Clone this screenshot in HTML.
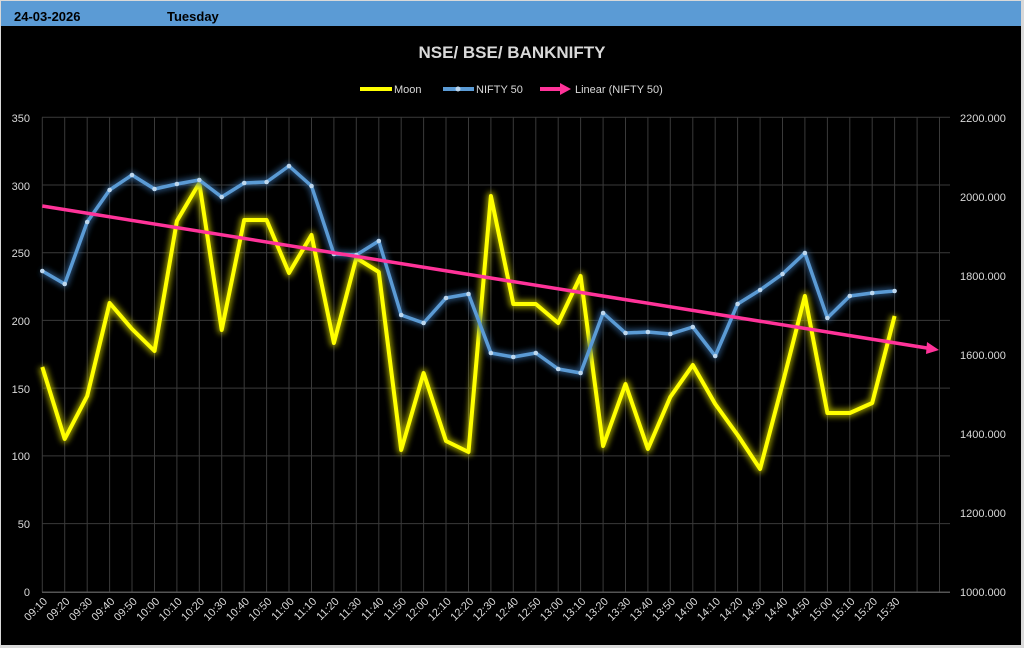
<!DOCTYPE html>
<html><head><meta charset="utf-8"><style>
html,body{margin:0;padding:0;background:#fff;}
body{width:1024px;height:648px;overflow:hidden;font-family:"Liberation Sans",sans-serif;}
</style></head><body>
<svg width="1024" height="648" viewBox="0 0 1024 648" xmlns="http://www.w3.org/2000/svg" font-family="Liberation Sans, sans-serif">
<defs>
<filter id="glow" x="-10%" y="-10%" width="120%" height="120%"><feGaussianBlur stdDeviation="3"/></filter>
</defs>
<rect x="0" y="0" width="1024" height="648" fill="#d9d9d9"/>
<rect x="1" y="1" width="1020" height="644" fill="#000"/>
<rect x="1" y="1" width="1020" height="25" fill="#5b9bd5"/>
<text x="14" y="21" font-size="13" font-weight="bold" fill="#000">24-03-2026</text>
<text x="167" y="21" font-size="13" font-weight="bold" fill="#000">Tuesday</text>
<text x="512" y="58" font-size="17" font-weight="bold" fill="#d9d9d9" text-anchor="middle">NSE/ BSE/ BANKNIFTY</text>
<line x1="360" y1="89" x2="392" y2="89" stroke="#ffff00" stroke-width="4"/>
<text x="394" y="93" font-size="11" fill="#d9d9d9">Moon</text>
<line x1="443" y1="89" x2="474" y2="89" stroke="#5b9bd5" stroke-width="4"/>
<circle cx="458" cy="89" r="2.5" fill="#bdd7ee"/>
<text x="476" y="93" font-size="11" fill="#d9d9d9">NIFTY 50</text>
<line x1="540" y1="89" x2="562" y2="89" stroke="#ff3399" stroke-width="4"/>
<polygon points="560,83 571,89 560,95" fill="#ff3399"/>
<text x="575" y="93" font-size="11" fill="#d9d9d9">Linear (NIFTY 50)</text>
<g stroke="#3a3a3a" stroke-width="1">
<path d="M42.3 117.3V592M64.7 117.3V592M87.2 117.3V592M109.6 117.3V592M132 117.3V592M154.5 117.3V592M176.9 117.3V592M199.3 117.3V592M221.7 117.3V592M244.2 117.3V592M266.6 117.3V592M289 117.3V592M311.5 117.3V592M333.9 117.3V592M356.3 117.3V592M378.8 117.3V592M401.2 117.3V592M423.6 117.3V592M446 117.3V592M468.5 117.3V592M490.9 117.3V592M513.3 117.3V592M535.8 117.3V592M558.2 117.3V592M580.6 117.3V592M603.1 117.3V592M625.5 117.3V592M647.9 117.3V592M670.3 117.3V592M692.8 117.3V592M715.2 117.3V592M737.6 117.3V592M760.1 117.3V592M782.5 117.3V592M804.9 117.3V592M827.4 117.3V592M849.8 117.3V592M872.2 117.3V592M894.6 117.3V592M917.1 117.3V592M939.5 117.3V592"/>
<path d="M42 117.3H950M42 185H950M42 252.7H950M42 320.4H950M42 388.1H950M42 455.9H950M42 523.6H950"/>
</g>
<line x1="42" y1="592.3" x2="950" y2="592.3" stroke="#555" stroke-width="1.5"/>
<g font-size="11" fill="#d9d9d9" text-anchor="end">
<text x="30" y="122">350</text><text x="30" y="190">300</text><text x="30" y="257">250</text><text x="30" y="325">200</text><text x="30" y="393">150</text><text x="30" y="460">100</text><text x="30" y="528">50</text><text x="30" y="596">0</text>
</g>
<g font-size="11" fill="#d9d9d9" text-anchor="start">
<text x="960" y="122">2200.000</text><text x="960" y="201">2000.000</text><text x="960" y="280">1800.000</text><text x="960" y="359">1600.000</text><text x="960" y="438">1400.000</text><text x="960" y="517">1200.000</text><text x="960" y="596">1000.000</text>
</g>
<g font-size="11" fill="#d9d9d9" text-anchor="end">
<text transform="translate(48,602) rotate(-45)">09:10</text>
<text transform="translate(70.4,602) rotate(-45)">09:20</text>
<text transform="translate(92.9,602) rotate(-45)">09:30</text>
<text transform="translate(115.3,602) rotate(-45)">09:40</text>
<text transform="translate(137.7,602) rotate(-45)">09:50</text>
<text transform="translate(160.2,602) rotate(-45)">10:00</text>
<text transform="translate(182.6,602) rotate(-45)">10:10</text>
<text transform="translate(205,602) rotate(-45)">10:20</text>
<text transform="translate(227.4,602) rotate(-45)">10:30</text>
<text transform="translate(249.9,602) rotate(-45)">10:40</text>
<text transform="translate(272.3,602) rotate(-45)">10:50</text>
<text transform="translate(294.7,602) rotate(-45)">11:00</text>
<text transform="translate(317.2,602) rotate(-45)">11:10</text>
<text transform="translate(339.6,602) rotate(-45)">11:20</text>
<text transform="translate(362,602) rotate(-45)">11:30</text>
<text transform="translate(384.5,602) rotate(-45)">11:40</text>
<text transform="translate(406.9,602) rotate(-45)">11:50</text>
<text transform="translate(429.3,602) rotate(-45)">12:00</text>
<text transform="translate(451.7,602) rotate(-45)">12:10</text>
<text transform="translate(474.2,602) rotate(-45)">12:20</text>
<text transform="translate(496.6,602) rotate(-45)">12:30</text>
<text transform="translate(519,602) rotate(-45)">12:40</text>
<text transform="translate(541.5,602) rotate(-45)">12:50</text>
<text transform="translate(563.9,602) rotate(-45)">13:00</text>
<text transform="translate(586.3,602) rotate(-45)">13:10</text>
<text transform="translate(608.8,602) rotate(-45)">13:20</text>
<text transform="translate(631.2,602) rotate(-45)">13:30</text>
<text transform="translate(653.6,602) rotate(-45)">13:40</text>
<text transform="translate(676,602) rotate(-45)">13:50</text>
<text transform="translate(698.5,602) rotate(-45)">14:00</text>
<text transform="translate(720.9,602) rotate(-45)">14:10</text>
<text transform="translate(743.3,602) rotate(-45)">14:20</text>
<text transform="translate(765.8,602) rotate(-45)">14:30</text>
<text transform="translate(788.2,602) rotate(-45)">14:40</text>
<text transform="translate(810.6,602) rotate(-45)">14:50</text>
<text transform="translate(833.1,602) rotate(-45)">15:00</text>
<text transform="translate(855.5,602) rotate(-45)">15:10</text>
<text transform="translate(877.9,602) rotate(-45)">15:20</text>
<text transform="translate(900.3,602) rotate(-45)">15:30</text>
</g>
<g id="moon" fill="none" stroke-linejoin="round">
<polyline filter="url(#glow)" stroke="#b8b800" stroke-width="8" stroke-opacity="0.8" points="42.3,367 64.7,439 87.2,396 109.6,303 132,329 154.5,351 176.9,221 199.3,183 221.7,330 244.2,220 266.6,220 289,273 311.5,235 333.9,343 356.3,258 378.8,272 401.2,450 423.6,373 446,441 468.5,452 490.9,196 513.3,304 535.8,304 558.2,323 580.6,276 603.1,446 625.5,384 647.9,449 670.3,397 692.8,365 715.2,404 737.6,435 760.1,469 782.5,384 804.9,296 827.4,413 849.8,413 872.2,403 894.6,316"/>
<polyline stroke="#ffff00" stroke-width="4" points="42.3,367 64.7,439 87.2,396 109.6,303 132,329 154.5,351 176.9,221 199.3,183 221.7,330 244.2,220 266.6,220 289,273 311.5,235 333.9,343 356.3,258 378.8,272 401.2,450 423.6,373 446,441 468.5,452 490.9,196 513.3,304 535.8,304 558.2,323 580.6,276 603.1,446 625.5,384 647.9,449 670.3,397 692.8,365 715.2,404 737.6,435 760.1,469 782.5,384 804.9,296 827.4,413 849.8,413 872.2,403 894.6,316"/>
</g>
<g fill="none" stroke-linejoin="round">
<polyline filter="url(#glow)" stroke="#2f5f8f" stroke-width="7" stroke-opacity="0.8" points="42.3,271 64.7,284 87.2,222 109.6,190 132,175 154.5,189 176.9,184 199.3,180 221.7,197 244.2,183 266.6,182 289,166 311.5,186 333.9,254 356.3,255 378.8,241 401.2,315 423.6,323 446,298 468.5,294 490.9,353 513.3,357 535.8,353 558.2,369 580.6,373 603.1,313 625.5,333 647.9,332 670.3,334 692.8,327 715.2,356 737.6,304 760.1,290 782.5,274 804.9,253 827.4,318 849.8,296 872.2,293 894.6,291"/>
<polyline stroke="#5b9bd5" stroke-width="3.5" points="42.3,271 64.7,284 87.2,222 109.6,190 132,175 154.5,189 176.9,184 199.3,180 221.7,197 244.2,183 266.6,182 289,166 311.5,186 333.9,254 356.3,255 378.8,241 401.2,315 423.6,323 446,298 468.5,294 490.9,353 513.3,357 535.8,353 558.2,369 580.6,373 603.1,313 625.5,333 647.9,332 670.3,334 692.8,327 715.2,356 737.6,304 760.1,290 782.5,274 804.9,253 827.4,318 849.8,296 872.2,293 894.6,291"/>
</g>
<g fill="#bdd7ee">
<circle cx="42.3" cy="271" r="2.3"/><circle cx="64.7" cy="284" r="2.3"/><circle cx="87.2" cy="222" r="2.3"/><circle cx="109.6" cy="190" r="2.3"/><circle cx="132" cy="175" r="2.3"/><circle cx="154.5" cy="189" r="2.3"/><circle cx="176.9" cy="184" r="2.3"/><circle cx="199.3" cy="180" r="2.3"/><circle cx="221.7" cy="197" r="2.3"/><circle cx="244.2" cy="183" r="2.3"/><circle cx="266.6" cy="182" r="2.3"/><circle cx="289" cy="166" r="2.3"/><circle cx="311.5" cy="186" r="2.3"/><circle cx="333.9" cy="254" r="2.3"/><circle cx="356.3" cy="255" r="2.3"/><circle cx="378.8" cy="241" r="2.3"/><circle cx="401.2" cy="315" r="2.3"/><circle cx="423.6" cy="323" r="2.3"/><circle cx="446" cy="298" r="2.3"/><circle cx="468.5" cy="294" r="2.3"/><circle cx="490.9" cy="353" r="2.3"/><circle cx="513.3" cy="357" r="2.3"/><circle cx="535.8" cy="353" r="2.3"/><circle cx="558.2" cy="369" r="2.3"/><circle cx="580.6" cy="373" r="2.3"/><circle cx="603.1" cy="313" r="2.3"/><circle cx="625.5" cy="333" r="2.3"/><circle cx="647.9" cy="332" r="2.3"/><circle cx="670.3" cy="334" r="2.3"/><circle cx="692.8" cy="327" r="2.3"/><circle cx="715.2" cy="356" r="2.3"/><circle cx="737.6" cy="304" r="2.3"/><circle cx="760.1" cy="290" r="2.3"/><circle cx="782.5" cy="274" r="2.3"/><circle cx="804.9" cy="253" r="2.3"/><circle cx="827.4" cy="318" r="2.3"/><circle cx="849.8" cy="296" r="2.3"/><circle cx="872.2" cy="293" r="2.3"/><circle cx="894.6" cy="291" r="2.3"/>
</g>
<line x1="42.3" y1="206" x2="930" y2="348.5" stroke="#ff3399" stroke-width="3.5"/>
<polygon points="927,342 939,350 926,354" fill="#ff3399"/>
</svg>
</body></html>
